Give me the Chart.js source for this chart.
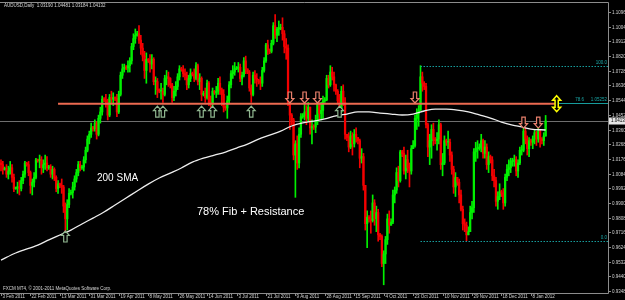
<!DOCTYPE html>
<html><head><meta charset="utf-8">
<script src="https://cdn.jsdelivr.net/npm/chart.js@4.4.1/dist/chart.umd.min.js"></script>
<style>html,body{margin:0;padding:0;background:#000;}canvas{display:block;}</style>
</head><body>
<canvas id="c" width="625" height="300"></canvas>
<script>
const titleText = "AUDUSD,Daily  1.03190 1.04481 1.03184 1.04132";
const copyrightText = "FXCM MT4, \u00a9 2001-2011 MetaQuotes Software Corp.";
const firstOpen = 1.0150;

const closes = [1.0140,1.0110,
1.0115,1.0080,1.0100,1.0120,1.0060,0.9990,
0.9995,1.0000,0.9990,1.0040,1.0080,1.0150,
1.0140,1.0090,1.0010,1.0030,1.0060,1.0170,
1.0165,1.0170,1.0120,1.0140,1.0150,1.0120,
1.0125,1.0080,1.0110,1.0060,0.9990,1.0020,
1.0010,1.0000,0.9880,0.9800,0.9890,0.9960,
0.9965,1.0000,1.0050,1.0090,1.0140,1.0120,
1.0125,1.0170,1.0230,1.0300,1.0330,1.0370,
1.0365,1.0400,1.0330,1.0430,1.0470,1.0550,
1.0545,1.0530,1.0450,1.0560,1.0550,1.0560,
1.0555,1.0470,1.0580,1.0700,1.0740,1.0750,
1.0745,1.0760,1.0790,1.0880,1.0930,1.0950,
1.0960,1.0920,1.0870,1.0820,1.0730,1.0800,
1.0790,1.0770,1.0800,1.0660,1.0660,1.0610,
1.0600,1.0600,1.0580,1.0680,1.0690,1.0680,
1.0640,1.0560,1.0600,1.0630,1.0690,1.0740,
1.0735,1.0710,1.0700,1.0640,1.0680,1.0710,
1.0705,1.0680,1.0760,1.0660,1.0680,1.0580,
1.0585,1.0560,1.0650,1.0530,1.0520,1.0600,
1.0590,1.0600,1.0650,1.0610,1.0580,1.0500,
1.0495,1.0540,1.0640,1.0710,1.0720,1.0740,
1.0745,1.0750,1.0680,1.0700,1.0790,1.0740,
1.0720,1.0620,1.0580,1.0700,1.0680,1.0670,
1.0660,1.0650,1.0730,1.0790,1.0890,1.0860,
1.0850,1.0900,1.1010,1.0950,1.0990,1.0990,
1.1000,1.0960,1.0880,1.0870,1.0530,1.0450,
1.0420,1.0200,1.0270,1.0150,1.0330,1.0440,
1.0445,1.0470,1.0430,1.0500,1.0370,1.0380,
1.0375,1.0410,1.0520,1.0460,1.0480,1.0540,
1.0545,1.0680,1.0640,1.0720,1.0690,1.0640,
1.0600,1.0540,1.0470,1.0600,1.0530,1.0330,
1.0310,1.0250,1.0320,1.0270,1.0330,1.0310,
1.0290,1.0180,1.0190,1.0010,0.9770,0.9810,
0.9800,0.9790,0.9900,0.9800,0.9840,0.9700,
0.9690,0.9520,0.9580,0.9670,0.9800,0.9760,
0.9780,0.9950,0.9980,1.0090,1.0040,1.0220,
1.0210,1.0100,1.0170,1.0120,1.0100,1.0240,
1.0260,1.0430,1.0460,1.0480,1.0690,1.0650,
1.0630,1.0390,1.0250,1.0290,1.0360,1.0300,
1.0290,1.0300,1.0390,1.0140,1.0150,1.0290,
1.0280,1.0280,1.0200,1.0110,1.0000,1.0060,
1.0030,0.9950,0.9860,0.9770,0.9760,0.9700,
0.9720,0.9840,0.9870,1.0220,1.0240,1.0240,
1.0250,1.0290,1.0210,1.0250,1.0140,1.0190,
1.0170,1.0070,1.0040,0.9910,0.9940,0.9970,
0.9960,0.9900,1.0060,1.0110,1.0120,1.0160,
1.0160,1.0170,1.0100,1.0150,1.0230,
1.0230,1.0350,1.0300,1.0240,1.0290,
1.0280,1.0300,1.0340,1.0300,1.0350,1.0300,
1.0290,1.0319,1.04132];

const highs = [1.0170,1.0160,
1.0125,1.0140,1.0130,1.0160,1.0140,1.0080,
1.0000,1.0030,1.0040,1.0060,1.0100,1.0160,
1.0155,1.0160,1.0100,1.0050,1.0090,1.0180,
1.0175,1.0200,1.0190,1.0170,1.0200,1.0190,
1.0135,1.0140,1.0130,1.0120,1.0070,1.0040,
1.0025,1.0050,1.0010,0.9900,0.9920,0.9990,
0.9980,1.0030,1.0070,1.0110,1.0160,1.0160,
1.0135,1.0190,1.0250,1.0320,1.0350,1.0400,
1.0380,1.0420,1.0410,1.0450,1.0500,1.0570,
1.0560,1.0580,1.0550,1.0580,1.0600,1.0590,
1.0565,1.0580,1.0600,1.0720,1.0770,1.0770,
1.0760,1.0790,1.0810,1.0900,1.0960,1.0990,
1.0975,1.1012,1.0950,1.0900,1.0850,1.0840,
1.0805,1.0830,1.0830,1.0810,1.0690,1.0680,
1.0615,1.0650,1.0620,1.0700,1.0730,1.0720,
1.0685,1.0650,1.0630,1.0660,1.0710,1.0760,
1.0750,1.0760,1.0740,1.0720,1.0700,1.0740,
1.0720,1.0740,1.0780,1.0770,1.0710,1.0690,
1.0600,1.0620,1.0670,1.0660,1.0570,1.0620,
1.0605,1.0630,1.0680,1.0690,1.0620,1.0610,
1.0510,1.0570,1.0660,1.0730,1.0760,1.0780,
1.0755,1.0780,1.0770,1.0720,1.0810,1.0820,
1.0740,1.0730,1.0640,1.0720,1.0730,1.0710,
1.0675,1.0690,1.0750,1.0810,1.0900,1.0920,
1.0865,1.0920,1.1030,1.1080,1.1000,1.1040,
1.1020,1.1060,1.0980,1.0930,1.0890,1.0560,
1.0460,1.0430,1.0290,1.0320,1.0370,1.0460,
1.0460,1.0520,1.0510,1.0530,1.0500,1.0420,
1.0390,1.0450,1.0540,1.0530,1.0530,1.0570,
1.0560,1.0700,1.0700,1.0760,1.0750,1.0720,
1.0645,1.0610,1.0580,1.0630,1.0640,1.0560,
1.0330,1.0340,1.0350,1.0340,1.0360,1.0370,
1.0310,1.0300,1.0240,1.0210,1.0010,0.9850,
0.9820,0.9850,0.9950,0.9920,0.9880,0.9860,
0.9710,0.9700,0.9600,0.9690,0.9830,0.9850,
0.9800,0.9980,1.0000,1.0120,1.0130,1.0230,
1.0230,1.0250,1.0200,1.0230,1.0150,1.0260,
1.0290,1.0450,1.0490,1.0510,1.0760,1.0720,
1.0660,1.0650,1.0400,1.0330,1.0390,1.0400,
1.0310,1.0340,1.0420,1.0400,1.0210,1.0320,
1.0300,1.0350,1.0300,1.0220,1.0130,1.0090,
1.0060,1.0050,0.9980,0.9880,0.9800,0.9780,
0.9750,0.9880,0.9910,1.0240,1.0280,1.0290,
1.0270,1.0330,1.0300,1.0290,1.0270,1.0220,
1.0200,1.0190,1.0110,1.0060,0.9970,1.0020,
0.9980,0.9990,1.0080,1.0140,1.0170,1.0180,
1.0180,1.0200,1.0190,1.0170,1.0250,
1.0260,1.0370,1.0370,1.0320,1.0310,
1.0300,1.0320,1.0360,1.0350,1.0370,1.0360,
1.0310,1.0340,1.04481];

const lows = [1.0100,1.0080,
1.0105,1.0060,1.0050,1.0080,1.0030,0.9970,
0.9985,0.9960,0.9950,0.9975,1.0020,1.0060,
1.0130,1.0070,0.9960,0.9950,1.0000,1.0050,
1.0155,1.0120,1.0080,1.0090,1.0110,1.0100,
1.0110,1.0060,1.0050,1.0040,0.9970,0.9960,
0.9995,0.9960,0.9840,0.9715,0.9730,0.9870,
0.9950,0.9930,0.9980,1.0030,1.0070,1.0100,
1.0110,1.0100,1.0150,1.0220,1.0270,1.0310,
1.0350,1.0350,1.0300,1.0320,1.0400,1.0450,
1.0535,1.0500,1.0420,1.0440,1.0520,1.0510,
1.0540,1.0440,1.0460,1.0570,1.0680,1.0720,
1.0735,1.0720,1.0720,1.0770,1.0860,1.0900,
1.0945,1.0900,1.0830,1.0790,1.0680,1.0650,
1.0780,1.0720,1.0740,1.0640,1.0580,1.0560,
1.0590,1.0550,1.0530,1.0570,1.0640,1.0630,
1.0620,1.0530,1.0540,1.0570,1.0610,1.0670,
1.0725,1.0690,1.0670,1.0610,1.0620,1.0660,
1.0695,1.0660,1.0670,1.0640,1.0610,1.0540,
1.0570,1.0530,1.0550,1.0510,1.0480,1.0500,
1.0580,1.0560,1.0580,1.0580,1.0510,1.0470,
1.0480,1.0430,1.0520,1.0620,1.0680,1.0700,
1.0735,1.0720,1.0660,1.0640,1.0690,1.0710,
1.0710,1.0600,1.0530,1.0570,1.0650,1.0630,
1.0645,1.0610,1.0630,1.0720,1.0780,1.0830,
1.0835,1.0840,1.0890,1.0930,1.0910,1.0950,
1.0985,1.0920,1.0840,1.0800,1.0510,1.0360,
1.0390,1.0170,0.9935,1.0110,1.0120,1.0310,
1.0430,1.0420,1.0390,1.0410,1.0330,1.0270,
1.0360,1.0340,1.0390,1.0420,1.0420,1.0430,
1.0530,1.0540,1.0620,1.0630,1.0670,1.0600,
1.0580,1.0520,1.0440,1.0470,1.0510,1.0300,
1.0290,1.0220,1.0240,1.0200,1.0250,1.0280,
1.0270,1.0120,1.0150,0.9980,0.9730,0.9620,
0.9780,0.9710,0.9780,0.9760,0.9720,0.9660,
0.9670,0.9500,0.9387,0.9520,0.9640,0.9710,
0.9760,0.9770,0.9900,0.9960,1.0000,1.0030,
1.0190,1.0080,1.0050,1.0090,1.0000,1.0080,
1.0240,1.0250,1.0360,1.0380,1.0480,1.0600,
1.0610,1.0370,1.0190,1.0140,1.0180,1.0260,
1.0270,1.0230,1.0270,1.0110,1.0070,1.0140,
1.0260,1.0240,1.0160,1.0080,0.9960,0.9940,
1.0010,0.9900,0.9850,0.9730,0.9720,0.9663,
0.9700,0.9720,0.9800,0.9840,1.0160,1.0180,
1.0230,1.0220,1.0180,1.0180,1.0110,1.0090,
1.0150,1.0040,1.0000,0.9880,0.9860,0.9920,
0.9940,0.9860,0.9880,1.0040,1.0070,1.0090,
1.0130,1.0130,1.0070,1.0060,1.0140,
1.0200,1.0220,1.0270,1.0200,1.0190,
1.0260,1.0240,1.0270,1.0260,1.0280,1.0250,
1.0270,1.0260,1.03184];

// 200 SMA read at weekly bar positions
const smaIdx = [0,8,20,26,32,38,44,50,56,62,68,74,80,86,92,98,104,110,116,122,128,134,140,146,152,158,164,170,176,182,188,194,200,206,212,218,224,230,236,242,248,254,260,266,272,278,283,288,296];
const smaVals = [0.9542,0.9586,0.9636,0.9668,0.9699,0.9730,0.9768,0.9805,0.9843,0.9887,0.9931,0.9975,1.0018,1.0056,1.0087,1.0119,1.0156,1.0181,1.0200,1.0219,1.0244,1.0269,1.0300,1.0325,1.0350,1.0382,1.0401,1.0413,1.0426,1.0445,1.0457,1.0470,1.0470,1.0463,1.0457,1.0451,1.0457,1.0476,1.0488,1.0488,1.0482,1.0470,1.0451,1.0432,1.0407,1.0388,1.0376,1.0363,1.0357];

const dateIdx = [0,16,32,48,64,80,96,112,128,144,160,176,192,208,224,240,256,272,288];
const dateLabels = ["3 Feb 2011","22 Feb 2011","13 Mar 2011","31 Mar 2011","19 Apr 2011","8 May 2011","26 May 2011","14 Jun 2011","3 Jul 2011","21 Jul 2011","9 Aug 2011","28 Aug 2011","15 Sep 2011","4 Oct 2011","23 Oct 2011","10 Nov 2011","29 Nov 2011","18 Dec 2011","8 Jan 2012"];

const priceTickLabels = ["1.10960","1.10040","1.09120","1.08200","1.07280","1.06360","1.05440","1.04520","1.03600","1.02680","1.01760","1.00840","0.99920","0.99000","0.98080","0.97160","0.96240","0.95320","0.94400","0.93480"];

const resistanceLevel = 1.0522;
const resistanceFrom = 31, resistanceTo = 301;
const fibLevels = [0.96627, 1.05252, 1.07600];
const fibNames = ["0.0", "78.6", "100.0"];
const fibFrom = 228;
const upArrowIdx = [35, 85, 88, 109, 115, 136, 184];
const upArrowTip = [0.9724, 1.0507, 1.0507, 1.0507, 1.0507, 1.0507, 1.0507];
const downArrowIdx = [157, 165, 172, 225, 284, 292];
const downArrowTip = [1.0526, 1.0526, 1.0526, 1.0526, 1.0369, 1.0369];
const markerIdx = 302;

const opens = closes.map((c, i) => i === 0 ? firstOpen : closes[i - 1]);
const lastPrice = closes[closes.length - 1];
const UP = '#00f000', DOWN = '#f40000';
const candleColors = closes.map((c, i) => c >= opens[i] ? UP : DOWN);
const SMALL = '4.5px "Liberation Sans", Arial, sans-serif';

function drawUpArrow(ctx, x, tip, col) {
  ctx.beginPath();
  ctx.moveTo(x, tip); ctx.lineTo(x + 4, tip + 4.5); ctx.lineTo(x + 1.7, tip + 4.5);
  ctx.lineTo(x + 1.7, tip + 11); ctx.lineTo(x - 1.7, tip + 11); ctx.lineTo(x - 1.7, tip + 4.5);
  ctx.lineTo(x - 4, tip + 4.5); ctx.closePath();
  ctx.fillStyle = '#000'; ctx.fill();
  ctx.strokeStyle = col; ctx.lineWidth = 1.2; ctx.stroke();
}
function drawDownArrow(ctx, x, tip, col) {
  ctx.beginPath();
  ctx.moveTo(x, tip); ctx.lineTo(x + 4, tip - 4.5); ctx.lineTo(x + 1.7, tip - 4.5);
  ctx.lineTo(x + 1.7, tip - 11); ctx.lineTo(x - 1.7, tip - 11); ctx.lineTo(x - 1.7, tip - 4.5);
  ctx.lineTo(x - 4, tip - 4.5); ctx.closePath();
  ctx.fillStyle = '#000'; ctx.fill();
  ctx.strokeStyle = col; ctx.lineWidth = 1.2; ctx.stroke();
}

const mtPlugin = {
  id: 'mt',
  beforeDraw(chart) {
    const ctx = chart.ctx;
    ctx.save(); ctx.fillStyle = '#000'; ctx.fillRect(0, 0, chart.width, chart.height); ctx.restore();
  },
  beforeDatasetsDraw(chart) {
    const ctx = chart.ctx, a = chart.chartArea, ys = chart.scales.y;
    ctx.save();
    const py = Math.round(ys.getPixelForValue(lastPrice)) + 0.5;
    ctx.strokeStyle = '#6e6e6e'; ctx.lineWidth = 1;
    ctx.beginPath(); ctx.moveTo(a.left, py); ctx.lineTo(a.right, py); ctx.stroke();
    ctx.restore();
  },
  afterDatasetsDraw(chart) {
    const ctx = chart.ctx, a = chart.chartArea, xs = chart.scales.x, ys = chart.scales.y;
    ctx.save();
    // fibonacci levels
    const fx = xs.getPixelForValue(fibFrom);
    ctx.strokeStyle = '#169c9c'; ctx.lineWidth = 1;
    fibLevels.forEach((lv, k) => {
      const y = Math.round(ys.getPixelForValue(lv)) + 0.5;
      ctx.setLineDash(k === 1 ? [] : [1.5, 1.5]);
      ctx.beginPath(); ctx.moveTo(fx, y); ctx.lineTo(a.right, y); ctx.stroke();
    });
    ctx.setLineDash([]);
    ctx.font = SMALL; ctx.fillStyle = '#1aa8a8'; ctx.textBaseline = 'bottom'; ctx.textAlign = 'right';
    fibLevels.forEach((lv, k) => {
      const y = ys.getPixelForValue(lv) - 1;
      if (k === 1) {
        ctx.fillText(lv.toFixed(5), a.right - 1, y);
        ctx.fillText(fibNames[k], a.right - 24, y);
      } else {
        ctx.fillText(fibNames[k], a.right - 1, y);
      }
    });
    // resistance line
    const ry = ys.getPixelForValue(resistanceLevel);
    ctx.strokeStyle = '#ec6a50'; ctx.lineWidth = 2;
    ctx.beginPath(); ctx.moveTo(xs.getPixelForValue(resistanceFrom), ry); ctx.lineTo(xs.getPixelForValue(resistanceTo), ry); ctx.stroke();
    // arrows
    upArrowIdx.forEach((ix, k) => drawUpArrow(ctx, xs.getPixelForValue(ix), ys.getPixelForValue(upArrowTip[k]), '#8fb58f'));
    downArrowIdx.forEach((ix, k) => drawDownArrow(ctx, xs.getPixelForValue(ix), ys.getPixelForValue(downArrowTip[k]), '#e8806c'));
    // yellow up/down marker
    const mx = xs.getPixelForValue(markerIdx), my = ry;
    ctx.beginPath();
    ctx.moveTo(mx, my - 8); ctx.lineTo(mx + 4, my - 3.5); ctx.lineTo(mx + 1.6, my - 3.5); ctx.lineTo(mx + 1.6, my + 3.5);
    ctx.lineTo(mx + 4, my + 3.5); ctx.lineTo(mx, my + 8); ctx.lineTo(mx - 4, my + 3.5); ctx.lineTo(mx - 1.6, my + 3.5);
    ctx.lineTo(mx - 1.6, my - 3.5); ctx.lineTo(mx - 4, my - 3.5); ctx.closePath();
    ctx.fillStyle = '#000'; ctx.fill(); ctx.strokeStyle = '#ffff00'; ctx.lineWidth = 1.5; ctx.stroke();
    // annotations
    ctx.fillStyle = '#ffffff'; ctx.textAlign = 'left'; ctx.textBaseline = 'middle';
    ctx.font = '10px "Liberation Sans", Arial, sans-serif';
    ctx.fillText('200 SMA', 97, 178);
    ctx.font = '11px "Liberation Sans", Arial, sans-serif';
    ctx.fillText('78% Fib + Resistance', 197, 212);
    // frame
    ctx.strokeStyle = '#8c8c8c'; ctx.lineWidth = 1;
    ctx.beginPath();
    ctx.moveTo(0, 2.5); ctx.lineTo(608.5, 2.5); ctx.lineTo(608.5, 293.5); ctx.lineTo(0, 293.5);
    ctx.stroke();
    // price axis
    ctx.font = SMALL; ctx.fillStyle = '#d2d2d2'; ctx.textAlign = 'left'; ctx.textBaseline = 'middle';
    priceTickLabels.forEach(lbl => {
      const y = Math.round(ys.getPixelForValue(parseFloat(lbl))) + 0.5;
      ctx.strokeStyle = '#8c8c8c';
      ctx.beginPath(); ctx.moveTo(608.5, y); ctx.lineTo(611, y); ctx.stroke();
      ctx.fillText(lbl, 612, y);
    });
    const lp = ys.getPixelForValue(lastPrice);
    ctx.fillStyle = '#e6e6e6'; ctx.fillRect(609, lp - 3.5, 16, 7);
    ctx.fillStyle = '#000'; ctx.fillText(lastPrice.toFixed(5), 611, lp);
    // time axis
    ctx.fillStyle = '#d2d2d2'; ctx.textBaseline = 'middle';
    dateIdx.forEach((ix, k) => {
      const x = Math.round(xs.getPixelForValue(ix)) + 0.5;
      ctx.strokeStyle = '#8c8c8c';
      ctx.beginPath(); ctx.moveTo(x, 293.5); ctx.lineTo(x, 296); ctx.stroke();
      ctx.fillText(dateLabels[k], x + 1, 296.5);
    });
    // header & copyright
    ctx.fillStyle = '#d8d8d8'; ctx.textBaseline = 'middle';
    ctx.fillText(titleText, 4, 5.5);
    ctx.fillText(copyrightText, 3, 288.5);
    ctx.restore();
  }
};

new Chart(document.getElementById('c'), {
  type: 'bar',
  data: {
    datasets: [
      {
        type: 'line', label: 'SMA200', order: 0,
        data: smaIdx.map((ix, k) => ({ x: ix, y: smaVals[k] })),
        borderColor: '#eeeeee', borderWidth: 1.3, pointRadius: 0,
        cubicInterpolationMode: 'monotone', fill: false
      },
      {
        label: 'bodies', order: 1, grouped: false,
        data: closes.map((c, i) => ({ x: i, y: [opens[i], c] })),
        backgroundColor: candleColors, barThickness: 1.6, minBarLength: 1, borderWidth: 0
      },
      {
        label: 'wicks', order: 2, grouped: false,
        data: closes.map((c, i) => ({ x: i, y: [lows[i], highs[i]] })),
        backgroundColor: candleColors, barThickness: 1, borderWidth: 0
      }
    ]
  },
  options: {
    responsive: false, animation: false, devicePixelRatio: 1,
    layout: { padding: { left: 0, right: 17, top: 2, bottom: 7 } },
    plugins: { legend: { display: false }, tooltip: { enabled: false } },
    scales: {
      x: { type: 'linear', min: -0.54, max: 329.9, display: false, offset: false },
      y: { type: 'linear', min: 0.93355, max: 1.1159, display: false }
    }
  },
  plugins: [mtPlugin]
});
</script>
</body></html>
